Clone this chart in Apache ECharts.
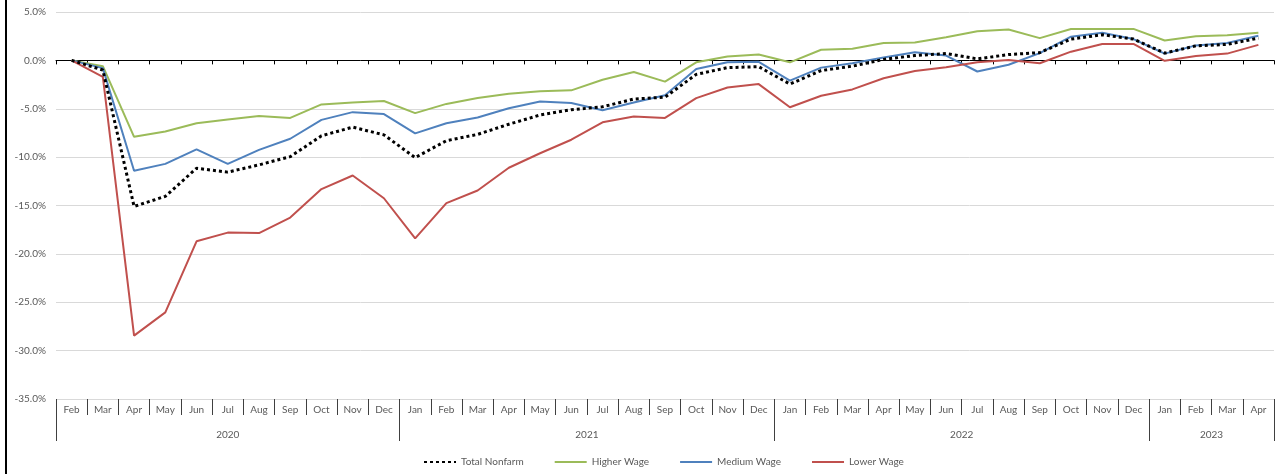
<!DOCTYPE html>
<html>
<head>
<meta charset="utf-8">
<title>Employment change by wage level</title>
<script src="https://cdn.jsdelivr.net/npm/echarts@6/dist/echarts.min.js"></script>
<style>
    html, body { margin: 0; padding: 0; background: #fff; }
    #chart { width: 1283px; height: 474px; position: relative; }
    .frame { position: absolute; left: 5px; top: 0; width: 2px; height: 474px; background: #000; }
</style>
</head>
<body>
<div class="frame"></div>
<div id="chart"></div>
<script>
    // months Feb 2020 .. Apr 2023
    const months = [
        'Feb', 'Mar', 'Apr', 'May', 'Jun', 'Jul', 'Aug', 'Sep', 'Oct', 'Nov', 'Dec',
        'Jan', 'Feb', 'Mar', 'Apr', 'May', 'Jun', 'Jul', 'Aug', 'Sep', 'Oct', 'Nov', 'Dec',
        'Jan', 'Feb', 'Mar', 'Apr', 'May', 'Jun', 'Jul', 'Aug', 'Sep', 'Oct', 'Nov', 'Dec',
        'Jan', 'Feb', 'Mar', 'Apr'
    ];
    const years = ['2020', '2021', '2022', '2023'];
    const monthsPerYear = [11, 12, 12, 4];

    // % change since Feb 2020
    const totalNonfarm = [
        0, -1.0, -15.1, -14.05, -11.15, -11.55, -10.8, -9.95, -7.8, -6.9, -7.7,
        -10.05, -8.3, -7.65, -6.6, -5.65, -5.1, -4.8, -4.0, -3.8, -1.45, -0.75, -0.65,
        -2.45, -1.05, -0.6, 0.1, 0.5, 0.7, 0.15, 0.6, 0.8, 2.2, 2.65, 2.2,
        0.75, 1.5, 1.65, 2.3
    ];
    const higherWage = [
        0, -0.6, -7.9, -7.35, -6.5, -6.1, -5.75, -5.95, -4.55, -4.35, -4.2,
        -5.45, -4.5, -3.9, -3.45, -3.2, -3.1, -2.0, -1.2, -2.2, -0.2, 0.4, 0.6,
        -0.2, 1.1, 1.2, 1.8, 1.85, 2.4, 3.0, 3.2, 2.3, 3.25, 3.25, 3.25,
        2.05, 2.5, 2.6, 2.85
    ];
    const mediumWage = [
        0, -0.8, -11.4, -10.7, -9.2, -10.7, -9.25, -8.1, -6.15, -5.35, -5.55,
        -7.55, -6.5, -5.9, -4.95, -4.25, -4.4, -5.15, -4.35, -3.6, -0.9, -0.2, -0.15,
        -2.1, -0.75, -0.3, 0.3, 0.85, 0.5, -1.15, -0.45, 0.75, 2.45, 2.85, 2.2,
        0.7, 1.55, 1.8, 2.55
    ];
    const lowerWage = [
        0, -1.7, -28.45, -26.05, -18.7, -17.8, -17.85, -16.25, -13.3, -11.9, -14.25,
        -18.4, -14.75, -13.45, -11.1, -9.6, -8.2, -6.4, -5.8, -5.95, -3.9, -2.8, -2.45,
        -4.85, -3.65, -3.0, -1.85, -1.1, -0.7, -0.2, 0.05, -0.3, 0.9, 1.7, 1.7,
        -0.05, 0.45, 0.7, 1.6
    ];

    // where each year starts on the month axis, and its middle (in month units)
    let yearStarts = [];
    let yearMids = {};
    let acc = 0;
    for (let i = 0; i < years.length; i++) {
        yearStarts.push(acc);
        yearMids[acc + monthsPerYear[i] / 2] = years[i];
        acc += monthsPerYear[i];
    }

    const font = 'Lato, "Liberation Sans", sans-serif';
    const textColor = '#595959';
    const sepColor = '#404040';

    const chart = echarts.init(document.getElementById('chart'));
    chart.setOption({
        animation: false,
        grid: { left: 56, right: 9, top: 12, bottom: 75 },
        legend: {
            left: 418,
            top: 452,
            itemWidth: 32,
            itemHeight: 10,
            itemGap: 30,
            itemStyle: { opacity: 0 },
            textStyle: { fontFamily: font, fontSize: 10, color: textColor },
            data: ['Total Nonfarm', 'Higher Wage', 'Medium Wage', 'Lower Wage']
        },
        xAxis: [
            {
                // month labels with separators at the bottom
                type: 'category',
                data: months,
                position: 'bottom',
                axisLine: { show: false, onZero: false },
                axisTick: { show: true, length: 16, lineStyle: { color: sepColor, width: 1 } },
                axisLabel: { interval: 0, margin: 6, fontFamily: font, fontSize: 10, color: textColor },
                splitLine: { show: false }
            },
            {
                // zero line with ticks
                type: 'category',
                data: months,
                position: 'bottom',
                axisLine: { show: true, onZero: true, lineStyle: { color: '#000', width: 1 } },
                axisTick: { show: true, length: 4, lineStyle: { color: '#000' } },
                axisLabel: { show: false },
                splitLine: { show: false }
            },
            {
                // year separators
                type: 'category',
                data: months,
                position: 'bottom',
                axisLine: { show: false, onZero: false },
                axisTick: {
                    show: true,
                    length: 42,
                    interval: function (idx) { return yearStarts.indexOf(idx) >= 0; },
                    lineStyle: { color: sepColor, width: 1 }
                },
                axisLabel: { show: false },
                splitLine: { show: false }
            },
            {
                // year labels
                type: 'value',
                min: 0,
                max: months.length,
                interval: 0.5,
                position: 'bottom',
                axisLine: { show: false, onZero: false },
                axisTick: { show: false },
                splitLine: { show: false },
                axisLabel: {
                    margin: 31,
                    fontFamily: font,
                    fontSize: 10,
                    color: textColor,
                    formatter: function (v) { return yearMids[v] || ''; }
                }
            }
        ],
        yAxis: {
            type: 'value',
            min: -35,
            max: 5,
            interval: 5,
            axisLine: { show: false, onZero: false },
            axisTick: { show: false },
            splitLine: { lineStyle: { color: '#d9d9d9', width: 1 } },
            axisLabel: {
                margin: 10,
                fontFamily: font,
                fontSize: 10,
                color: textColor,
                formatter: function (v) { return v.toFixed(1) + '%'; }
            }
        },
        series: [
            {
                name: 'Total Nonfarm',
                type: 'line',
                data: totalNonfarm,
                symbol: 'none',
                z: 5,
                lineStyle: { color: '#000', width: 3, type: [3, 3], cap: 'butt' },
                itemStyle: { color: '#000' }
            },
            {
                name: 'Higher Wage',
                type: 'line',
                data: higherWage,
                symbol: 'none',
                lineStyle: { color: '#9bbb59', width: 2 },
                itemStyle: { color: '#9bbb59' }
            },
            {
                name: 'Medium Wage',
                type: 'line',
                data: mediumWage,
                symbol: 'none',
                lineStyle: { color: '#4f81bd', width: 2 },
                itemStyle: { color: '#4f81bd' }
            },
            {
                name: 'Lower Wage',
                type: 'line',
                data: lowerWage,
                symbol: 'none',
                lineStyle: { color: '#c0504d', width: 2 },
                itemStyle: { color: '#c0504d' }
            }
        ]
    });
</script>
</body>
</html>
